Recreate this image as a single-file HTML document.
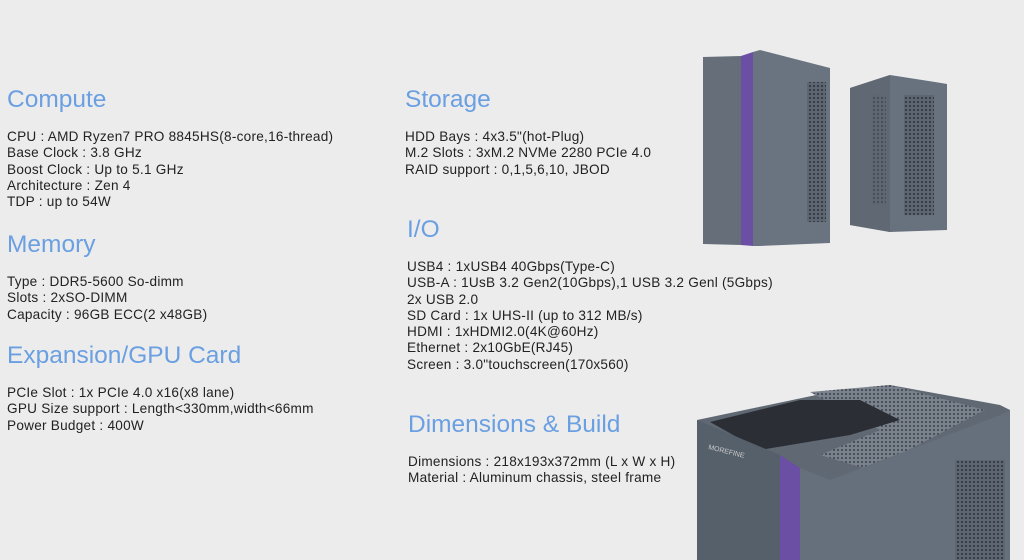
<!DOCTYPE html>
<html><head><meta charset="utf-8"><style>
body{margin:0;width:1024px;height:560px;background:#ececec;position:relative;overflow:hidden;font-family:"Liberation Sans",sans-serif;}
.h{position:absolute;color:#6a9fe2;font-size:24.5px;line-height:26px;white-space:nowrap;}
.t{position:absolute;color:#222;font-size:13.6px;letter-spacing:0.25px;line-height:16.3px;white-space:nowrap;}
</style></head><body>
<div class="h" style="left:7px;top:87px">Compute</div>
<div class="t" style="left:7px;top:129px">CPU : AMD Ryzen7 PRO 8845HS(8-core,16-thread)<br>Base Clock : 3.8 GHz<br>Boost Clock : Up to 5.1 GHz<br>Architecture : Zen 4<br>TDP : up to 54W</div>
<div class="h" style="left:7px;top:232px">Memory</div>
<div class="t" style="left:7px;top:274px">Type : DDR5-5600 So-dimm<br>Slots : 2xSO-DIMM<br>Capacity : 96GB ECC(2 x48GB)</div>
<div class="h" style="left:7px;top:343px">Expansion/GPU Card</div>
<div class="t" style="left:7px;top:385px">PCIe Slot : 1x PCIe 4.0 x16(x8 lane)<br>GPU Size support : Length&lt;330mm,width&lt;66mm<br>Power Budget : 400W</div>
<div class="h" style="left:405px;top:87px">Storage</div>
<div class="t" style="left:405px;top:129px">HDD Bays : 4x3.5"(hot-Plug)<br>M.2 Slots : 3xM.2 NVMe 2280 PCIe 4.0<br>RAID support : 0,1,5,6,10, JBOD</div>
<div class="h" style="left:407px;top:217px">I/O</div>
<div class="t" style="left:407px;top:259px">USB4 : 1xUSB4 40Gbps(Type-C)<br>USB-A : 1UsB 3.2 Gen2(10Gbps),1 USB 3.2 Genl (5Gbps)<br>2x USB 2.0<br>SD Card : 1x UHS-II (up to 312 MB/s)<br>HDMI : 1xHDMI2.0(4K@60Hz)<br>Ethernet : 2x10GbE(RJ45)<br>Screen : 3.0"touchscreen(170x560)</div>
<div class="h" style="left:408px;top:412px">Dimensions &amp; Build</div>
<div class="t" style="left:408px;top:454px">Dimensions : 218x193x372mm (L x W x H)<br>Material : Aluminum chassis, steel frame</div>
<svg style="position:absolute;left:0;top:0" width="1024" height="560">
<defs><pattern id="m" width="4" height="4" patternUnits="userSpaceOnUse"><rect width="4" height="4" fill="#5d6671"/><circle cx="2" cy="2" r="1.1" fill="#343a42"/></pattern>
<pattern id="m2" width="4" height="4" patternUnits="userSpaceOnUse"><rect width="4" height="4" fill="#7a838d"/><circle cx="2" cy="2" r="1.1" fill="#454b53"/></pattern></defs>
<polygon points="703,57 741,56 741,245 703,244" fill="#656e79"/>
<polygon points="741,56 753,52 753,246 741,245" fill="#6a4fa5"/>
<polygon points="753,52 760,50 830,68 830,243 760,246 753,246" fill="#6a7480"/>
<rect x="807" y="82" width="19" height="140" fill="url(#m)"/>
<polygon points="850,88 890,75 935,82 947,84 947,230 890,232 850,225" fill="#68727e"/>
<polygon points="850,88 890,75 890,232 850,225" fill="#5f6873"/>
<rect x="904" y="95" width="30" height="120" fill="url(#m)"/>
<rect x="872" y="95" width="14" height="110" fill="url(#m)" opacity=".6"/>
<polygon points="697,420 840,390 890,385 1000,405 1010,410 1010,560 697,560" fill="#5f6873"/>
<polygon points="810,392 890,385 985,410 870,470 820,455 880,430" fill="url(#m2)"/>
<polygon points="710,422 800,400 860,400 900,420 850,435 760,450" fill="#2b2f35"/>
<polygon points="697,420 780,455 780,560 697,560" fill="#56606b"/>
<polygon points="780,455 800,468 800,560 780,560" fill="#6a4fa5"/>
<polygon points="800,468 830,480 1000,415 1010,410 1010,560 800,560" fill="#65707c"/>
<rect x="955" y="460" width="50" height="100" fill="url(#m)"/>
<text x="708" y="449" font-family="Liberation Sans" font-size="7" fill="#ccc" transform="rotate(14 708 449)">MOREFINE</text>
</svg>
</body></html>
